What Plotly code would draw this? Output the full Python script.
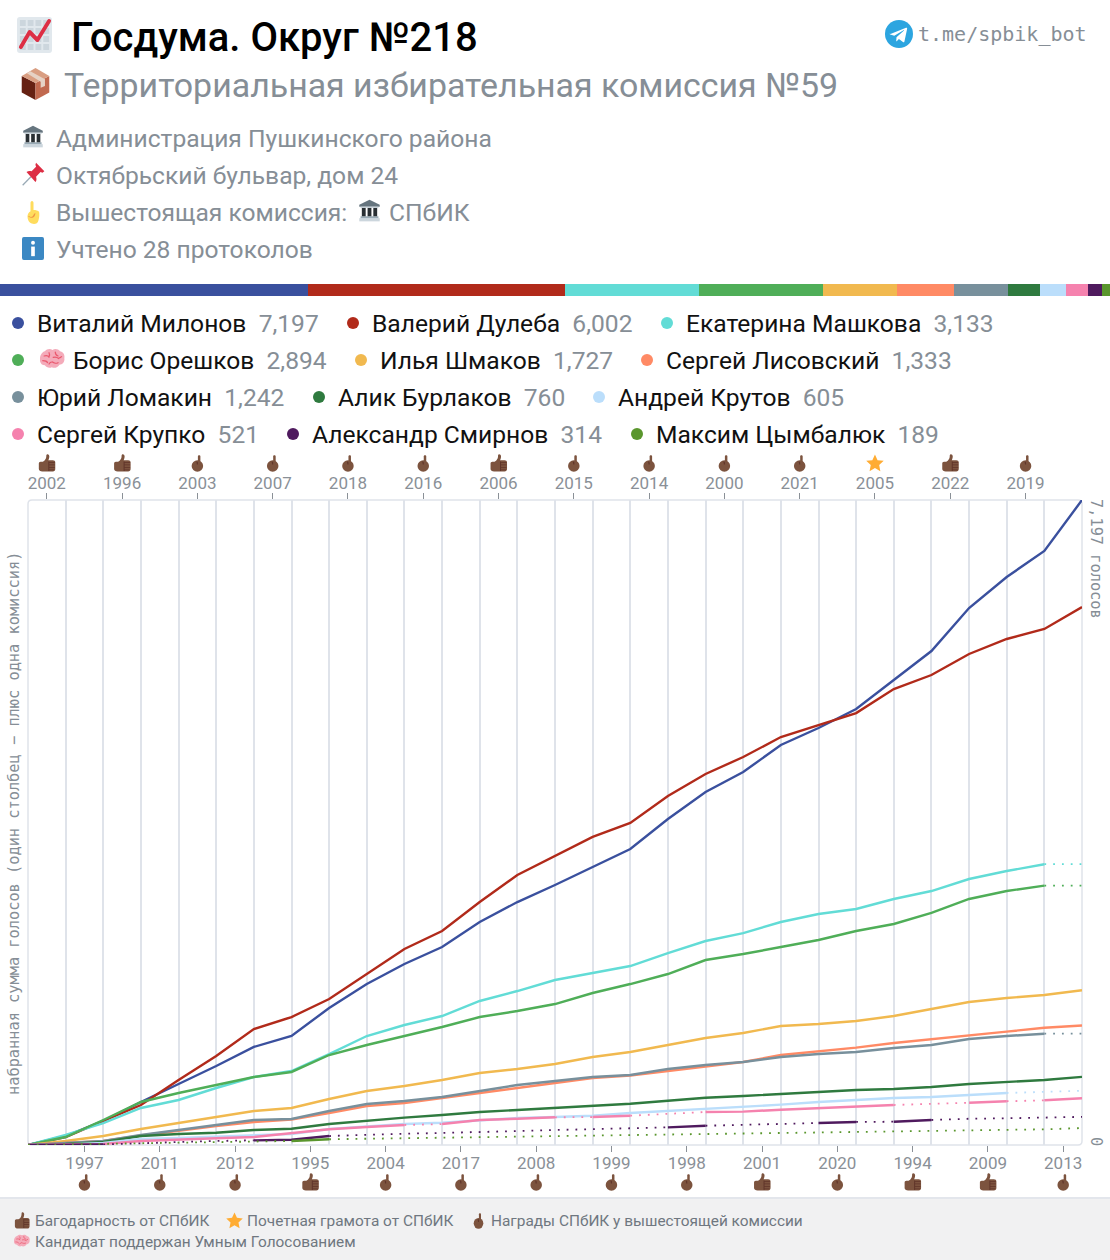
import base64
import plotly.graph_objects as go

W, H = 1110, 1260

# ---------- data ----------
names = ["Виталий Милонов", "Валерий Дулеба", "Екатерина Машкова", "Борис Орешков", "Илья Шмаков",
         "Сергей Лисовский", "Юрий Ломакин", "Алик Бурлаков", "Андрей Крутов", "Сергей Крупко",
         "Александр Смирнов", "Максим Цымбалюк"]
totals = [7197, 6002, 3133, 2894, 1727, 1333, 1242, 760, 605, 521, 314, 189]
colors = ["#3a509e", "#b12a1a", "#62dcd6", "#4fae58", "#f1b94f", "#ff8a65", "#78909c", "#2f7a3f",
          "#bbdefb", "#f582ae", "#4f1a5e", "#5a962d"]

milonov = [0, 100, 268, 480, 681, 881, 1094, 1216, 1529, 1796, 2020, 2209, 2488, 2711, 2901, 3102, 3303, 3637,
           3939, 4162, 4463, 4653, 4865, 5188, 5512, 5992, 6338, 6628, 7197]
duleba = [0, 89, 268, 446, 725, 993, 1294, 1428, 1629, 1908, 2187, 2388, 2711, 3013, 3225, 3437, 3593, 3894,
          4140, 4329, 4552, 4686, 4820, 5088, 5244, 5479, 5646, 5758, 6002]
mashkova = [0, 112, 245, 413, 502, 636, 759, 826, 1015, 1216, 1339, 1439, 1607, 1718, 1841, 1919, 1997, 2142,
            2276, 2365, 2488, 2577, 2633, 2745, 2834, 2968, 3057, 3133, 3133]
oreshkov = [0, 89, 279, 480, 580, 669, 759, 815, 1004, 1116, 1216, 1317, 1428, 1495, 1573, 1696, 1796, 1908,
            2064, 2131, 2209, 2287, 2388, 2466, 2589, 2745, 2834, 2894, 2894]
shmakov = [0, 45, 100, 179, 245, 312, 379, 413, 513, 603, 658, 725, 803, 848, 904, 982, 1038, 1116,
           1194, 1250, 1328, 1350, 1384, 1439, 1517, 1596, 1640, 1674, 1727]
lisovsky = [0, 22, 45, 106, 162, 212, 257, 285, 357, 435, 469, 525, 580, 642, 692, 748, 776, 826,
            882, 926, 1004, 1042, 1086, 1138, 1183, 1220, 1265, 1309, 1333]
lomakin = [0, 22, 45, 112, 167, 223, 279, 290, 379, 457, 491, 536, 603, 669, 714, 759, 781, 848,
           893, 926, 982, 1015, 1038, 1082, 1116, 1183, 1216, 1242, 1242]
burlakov = [0, 11, 33, 100, 123, 137, 167, 182, 234, 271, 305, 335, 368, 391, 413, 439, 461, 494,
            528, 547, 569, 584, 614, 625, 647, 681, 706, 725, 760]
krutov = [0, 6, 22, 67, 78, 93, 100, 123, 179, 204, 234, 249, 279, 301, 312, 327, 357, 379,
          402, 424, 450, 480, 502, 524, 536, 558, 580, 593, 605]
krupko = [0, 6, 11, 45, 56, 75, 89, 134, 175, 201, 223, 234, 279, 293, 309, 312, 327, 344,
          368, 372, 394, 413, 427, 446, 460, 472, 488, 499, 521]
smirnov = [0, 0, 5, 22, 33, 45, 52, 59, 100, 117, 126, 134, 148, 156, 167, 175, 182, 197,
           215, 223, 234, 245, 257, 260, 279, 293, 298, 305, 314]
tsymbalyuk = [0, 6, 11, 17, 22, 28, 33, 45, 64, 70, 75, 81, 89, 93, 100, 101, 108, 112,
              119, 126, 134, 137, 142, 148, 153, 160, 167, 175, 189]
series = [milonov, duleba, mashkova, oreshkov, shmakov, lisovsky, lomakin, burlakov, krutov, krupko, smirnov, tsymbalyuk]

# index ranges of each candidate drawn dotted (no solid line)
dotted = [[], [], [(27, 28)], [(27, 28)], [], [], [(27, 28)], [], [(26, 28)],
          [(10, 11), (14, 15), (16, 18), (23, 25), (26, 27)],
          [(2, 6), (8, 17), (18, 21), (22, 23), (24, 28)],
          [(0, 7), (8, 28)]]

top_years = ["2002", "1996", "2003", "2007", "2018", "2016", "2006", "2015", "2014", "2000", "2021", "2005", "2022", "2019"]
top_awards = ["up", "up", "point", "point", "point", "point", "up", "point", "point", "point", "point", "star", "up", "point"]
bottom_years = ["1997", "2011", "2012", "1995", "2004", "2017", "2008", "1999", "1998", "2001", "2020", "1994", "2009", "2013"]
bottom_awards = ["point", "point", "point", "up", "point", "point", "point", "point", "point", "up", "point", "up", "up", "point"]

# ---------- helpers ----------
def X(p): return p / W
def Y(p): return 1 - p / H

def svg(body, vb=36):
    s = f'<svg xmlns="http://www.w3.org/2000/svg" viewBox="0 0 {vb} {vb}">{body}</svg>'
    return "data:image/svg+xml;base64," + base64.b64encode(s.encode()).decode()

BR = "#7c533e"
BD = "#60352a"
ICONS = {
    "up": svg(f'<path fill="{BR}" d="M2 19c0-2 1.4-3.5 3.5-3.5H10l3-2c3-3 4-6 4-10 0-2 1-3 2.5-3S23 2 23 5c0 3-1 5.500-2 7.500h9c3 0 5 1.500 5 4.500v13c0 3-2 5-5 5H9c-4 0-7-2-7-5z"/>'
              f'<path fill="{BD}" d="M23 16h11v1.500H23zm0 5h11v1.500H23zm0 5h11v1.500H23zm0 5h10v1.500H23zM21 15h2v19h-2z"/>'),
    "point": svg(f'<circle cx="18" cy="24" r="11.500" fill="{BR}"/><path fill="{BR}" d="M19 5c0-1.500 1-2.500 2.500-2.500S24 3.500 24 5v16h-5z"/>'
                 f'<path fill="{BD}" d="M16 15c2 0 3 1 3 3v3h-2z"/>'),
    "star": svg('<path fill="#ffac33" d="M18 1l5.200 11.300 12.300 1.400-9.100 8.400 2.400 12.200L18 28.200 7.200 34.300l2.400-12.200L.5 13.700l12.300-1.400z"/>'),
    "chart": svg('<rect x="0" y="0" width="36" height="36" rx="3" fill="#e1e8ed"/><path fill="#ccd6dd" d="M3 3h6v6H3zm8 0h6v6h-6zm8 0h6v6h-6zm8 0h6v6h-6zM3 11h6v6H3zm8 0h6v6h-6zm8 0h6v6h-6zm8 0h6v6h-6zM3 19h6v6H3zm8 0h6v6h-6zm8 0h6v6h-6zm8 0h6v6h-6zM3 27h6v6H3zm8 0h6v6h-6zm8 0h6v6h-6zm8 0h6v6h-6z"/>'
                 '<path fill="none" stroke="#dd2e44" stroke-width="4" stroke-linejoin="round" stroke-linecap="round" d="M4 30L13 15l8 8L33 4"/>'),
    "box": svg('<path fill="#662113" d="M2 9.500L18 17v18L2 27z"/><path fill="#c1694f" d="M34 9.500L18 17v18l16-8z"/>'
               '<path fill="#d99e82" d="M18 1l16 8.500L18 17 2 9.500z"/><path fill="#e6d2c5" d="M12 4.500l17 8.500 0 7-5 2v-6.500L8 6.500z"/>'),
    "bank": svg('<path fill="#66757f" d="M18 1L2 9v3h32V9z"/><rect x="2" y="30" width="32" height="5" fill="#ccd6dd"/><rect x="4" y="27" width="28" height="3" fill="#99aab5"/>'
                '<path fill="#292f33" d="M6 13h6v14H6zm9 0h6v14h-6zm9 0h6v14h-6z"/><path fill="#ccd6dd" d="M4 12h28v2H4z"/>'),
    "pin": svg('<path stroke="#99aab5" stroke-width="2" d="M1 35l13-13"/><path fill="#dd2e44" d="M22 1l13 13-3 2-3-1-7 7c1 3 1 6-1 8L7 15c3-2 5-2 8-1l7-7-1-3z"/>'),
    "hand": svg('<path fill="#ffdc5d" d="M13 16c0-3 0-12 0-13s1-3 3-3 3 2 3 3v11c4 0 10 1 11 3s1 9-1 13c-1 4-5 6-9 6-6 0-13-3-13-12 0-3 2-6 6-8z"/>'
                '<path fill="#ef9645" d="M8 24c3 0 4 1 6 1s4-1 5-3 2-3 4-3c-1 3-2 6-5 7-3 1-7 0-10-2z"/>'),
    "info": svg('<rect x="0" y="0" width="36" height="36" rx="3" fill="#3b88c3"/><circle cx="18" cy="9" r="3.200" fill="#fff"/><rect x="15" y="15" width="6" height="15" fill="#fff"/>'),
    "brain": svg('<path fill="#f4abba" d="M7 5c3-4 8-4 11-2 3-2 8-2 11 2 5 1 7 6 6 10 1 5-2 10-7 10-2 4-7 6-11 4-4 2-8 0-10-3-5 0-8-5-7-10C0 11 3 6 7 5z"/>'
                 '<path fill="none" stroke="#ea596e" stroke-width="1.800" stroke-linecap="round" d="M6 12c3-1 6 0 7 2M4 19c3 0 6 1 7 3M13 7c1 2 1 4 0 6M22 6c0 3 1 5 4 6M19 14c3-1 6 0 8 2M31 13c-1 1-3 2-4 2M18 21c2 2 6 2 8 1M13 24c1-2 3-3 4-3"/>'),
    "telegram": svg('<circle cx="18" cy="18" r="18" fill="#2ca5e0"/><path fill="#fff" d="M7 18l20-8c1-.4 1.700.2 1.400 1.500l-3.400 16c-.3 1.100-1 1.400-1.900.9l-5.200-3.900-2.500 2.400c-.3.3-.5.500-1 .5l.4-5.300 9.600-8.700c.4-.4-.1-.6-.6-.2L11.900 20.100 6.800 18.500c-1.100-.3-1.100-1.100.2-.5z"/>'),
}

images, annotations, shapes = [], [], []

def icon(name, x0, y0, x1, y1):
    images.append(dict(source=ICONS[name], xref="paper", yref="paper", x=X(x0), y=Y(y0), sizex=(x1 - x0) / W,
                       sizey=(y1 - y0) / H, xanchor="left", yanchor="top", sizing="stretch", layer="above"))

def label(text, x, y, size, color, family="Roboto", weight=None, angle=0, xanchor="left", yanchor="middle"):
    f = dict(size=size, color=color, family=family)
    if weight:
        f["weight"] = weight
    annotations.append(dict(text=text, xref="paper", yref="paper", x=X(x), y=Y(y), xanchor=xanchor, yanchor=yanchor,
                            showarrow=False, font=f, textangle=angle, borderpad=0, borderwidth=0))

GREY = "#868e96"
MONO = "DejaVu Sans Mono"

# ---------- header ----------
icon("chart", 17, 17, 52, 53)
label("Госдума. Округ №218", 71, 37, 40, "#000000", weight=500)
icon("telegram", 885, 20, 913, 48)
label("t.me/spbik_bot", 918, 34, 20, GREY, family=MONO)
icon("box", 20, 67, 51, 101)
label("Территориальная избирательная комиссия №59", 64, 86, 33.9, GREY)
icon("bank", 22, 125, 44, 148)
label("Администрация Пушкинского района", 56, 138.4, 24.6, GREY)
icon("pin", 22, 162, 45, 186)
label("Октябрьский бульвар, дом 24", 56, 176, 24.6, GREY)
icon("hand", 24, 201, 42, 224)
label("Вышестоящая комиссия:", 56, 212.4, 24.6, GREY)
icon("bank", 358, 199, 381, 222)
label("СПбИК", 389, 212.4, 24.6, GREY)
icon("info", 22, 237, 44, 260)
label("Учтено 28 протоколов", 56, 250, 24.6, GREY)

# ---------- legend ----------
legend_pos = [(18, 323), (353, 323), (667, 323), (18, 360), (361, 360), (647, 360),
              (18, 397), (319, 397), (599, 397), (18, 434), (293, 434), (637, 434)]
for i, (nm, tot, col) in enumerate(zip(names, totals, colors)):
    dx, dy = legend_pos[i]
    shapes.append(dict(type="circle", xref="paper", yref="paper", x0=X(dx - 6), x1=X(dx + 6), y0=Y(dy + 6), y1=Y(dy - 6),
                       fillcolor=col, line_width=0))
    tx = dx + 19
    if nm == "Борис Орешков":
        icon("brain", 40, 348, 65, 372)
        tx = 73
    label(f'<span style="color:#111111">{nm}</span>  <span style="color:{GREY}">{tot:,}</span>', tx, dy, 24.6, GREY)

# ---------- footer ----------
shapes.append(dict(type="rect", xref="paper", yref="paper", x0=0, x1=1, y0=0, y1=Y(1198), fillcolor="#f1f1f2",
                   line_width=0, layer="below"))
shapes.append(dict(type="line", xref="paper", yref="paper", x0=0, x1=1, y0=Y(1198), y1=Y(1198), line=dict(color="#e3e6ec", width=2)))
FT = "#6f7780"
icon("up", 14, 1212, 30, 1229)
label("Багодарность от СПбИК", 35, 1220.6, 15.4, FT)
icon("star", 226, 1212, 243, 1229)
label("Почетная грамота от СПбИК", 247, 1220.6, 15.4, FT)
icon("point", 471, 1212, 486, 1229)
label("Награды СПбИК у вышестоящей комиссии", 491, 1220.6, 15.4, FT)
icon("brain", 14, 1234, 30, 1249)
label("Кандидат поддержан Умным Голосованием", 35, 1241.6, 15.4, FT)

# ---------- plot frame & side labels ----------
L, R, T, B, r = 28, 1082, 500, 1145, 4
shapes.append(dict(type="path", xref="paper", yref="paper", layer="below", line=dict(color="#dfe3ea", width=1.5),
                   path=f"M {X(L)},{Y(T + r)} Q {X(L)},{Y(T)} {X(L + r)},{Y(T)} L {X(R - r)},{Y(T)} Q {X(R)},{Y(T)} {X(R)},{Y(T + r)} "
                        f"L {X(R)},{Y(B - r)} Q {X(R)},{Y(B)} {X(R - r)},{Y(B)} L {X(L + r)},{Y(B)} Q {X(L)},{Y(B)} {X(L)},{Y(B - r)} Z"))
label("набранная сумма голосов (один столбец − плюс одна комиссия)", 14, 824, 15.3, GREY, family=MONO, angle=-90, xanchor="center")
label(f"{totals[0]:,} голосов", 1096, 559, 15.3, GREY, family=MONO, angle=90, xanchor="center")
label("0", 1096, 1141, 15.3, GREY, family=MONO, angle=90, xanchor="center")

# ---------- award icons on ticks ----------
def award(kind, xval, y0):
    size = 18
    images.append(dict(source=ICONS[kind], xref="x", yref="paper", x=xval, y=Y(y0), sizex=size / (R - L) * 28,
                       sizey=size / H, xanchor="center", yanchor="top", sizing="stretch", layer="above"))

top_ticks = [0.5 + 2 * i for i in range(len(top_years))]
bottom_ticks = [1.5 + 2 * i for i in range(len(bottom_years))]
for kind, v in zip(top_awards, top_ticks):
    award(kind, v, 454)
for kind, v in zip(bottom_awards, bottom_ticks):
    award(kind, v, 1173)

# ---------- traces ----------
fig = go.Figure()
xs = list(range(29))

def segments(vals, ranges):
    px, py = [], []
    for a, b in ranges:
        px += xs[a:b + 1] + [None]
        py += vals[a:b + 1] + [None]
    return px, py

for nm, vals, col, dots in zip(names, series, colors, dotted):
    solid, cur = [], 0
    for a, b in dots:
        if a > cur:
            solid.append((cur, a))
        cur = b
    if cur < 28:
        solid.append((cur, 28))
    sx, sy = segments(vals, solid)
    fig.add_trace(go.Scatter(x=sx, y=sy, mode="lines", name=nm, line=dict(color=col, width=2.4), showlegend=False,
                             hoverinfo="skip", cliponaxis=False))
    if dots:
        dx_, dy_ = segments(vals, dots)
        fig.add_trace(go.Scatter(x=dx_, y=dy_, mode="lines", name=nm, line=dict(color=col, width=1.8, dash="1.8px,7px"),
                                 showlegend=False, hoverinfo="skip", cliponaxis=False))

# top overlay axis needs a trace so that it renders
fig.add_trace(go.Scatter(x=[0, 28], y=[0, 0], xaxis="x2", yaxis="y", mode="lines", line=dict(width=0), showlegend=False, hoverinfo="skip"))

# proportional colour strip
for nm, tot, col in zip(names, totals, colors):
    fig.add_trace(go.Bar(x=[tot], y=[0], orientation="h", xaxis="x3", yaxis="y3", marker=dict(color=col, line_width=0),
                         name=nm, showlegend=False, hoverinfo="skip"))

axis_font = dict(family="Roboto", size=17, color="#8a9097")
common = dict(range=[0, 28], domain=[X(L), X(R)], showgrid=False, zeroline=False, showline=False, ticks="outside", ticklen=6,
              tickwidth=1, tickcolor="#8a9097", tickfont=axis_font, tickmode="array", ticklabelstandoff=-3)
fig.update_layout(
    width=W, height=H, autosize=False, margin=dict(l=0, r=0, t=0, b=0), paper_bgcolor="#ffffff", plot_bgcolor="#ffffff",
    barmode="stack", bargap=0, showlegend=False, hovermode=False, font=dict(family="Roboto"),
    xaxis=dict(**common, tickvals=bottom_ticks, ticktext=bottom_years, side="bottom", anchor="y",
               minor=dict(tick0=0, dtick=1, showgrid=True, gridcolor="#dfe3ea", gridwidth=1.5, ticks="")),
    xaxis2=dict(**common, tickvals=top_ticks, ticktext=top_years, side="top", overlaying="x", anchor="y"),
    yaxis=dict(range=[0, totals[0]], domain=[Y(B), Y(T)], visible=False, fixedrange=True),
    xaxis3=dict(range=[0, sum(totals)], domain=[0, 1], visible=False, anchor="y3"),
    yaxis3=dict(range=[-0.5, 0.5], domain=[Y(296), Y(284)], visible=False, anchor="x3"),
    images=images, annotations=annotations, shapes=shapes,
)
fig.write_html("out.html", config={"displayModeBar": False},
               post_script="document.body.style.margin='0';document.body.style.overflow='hidden';")
